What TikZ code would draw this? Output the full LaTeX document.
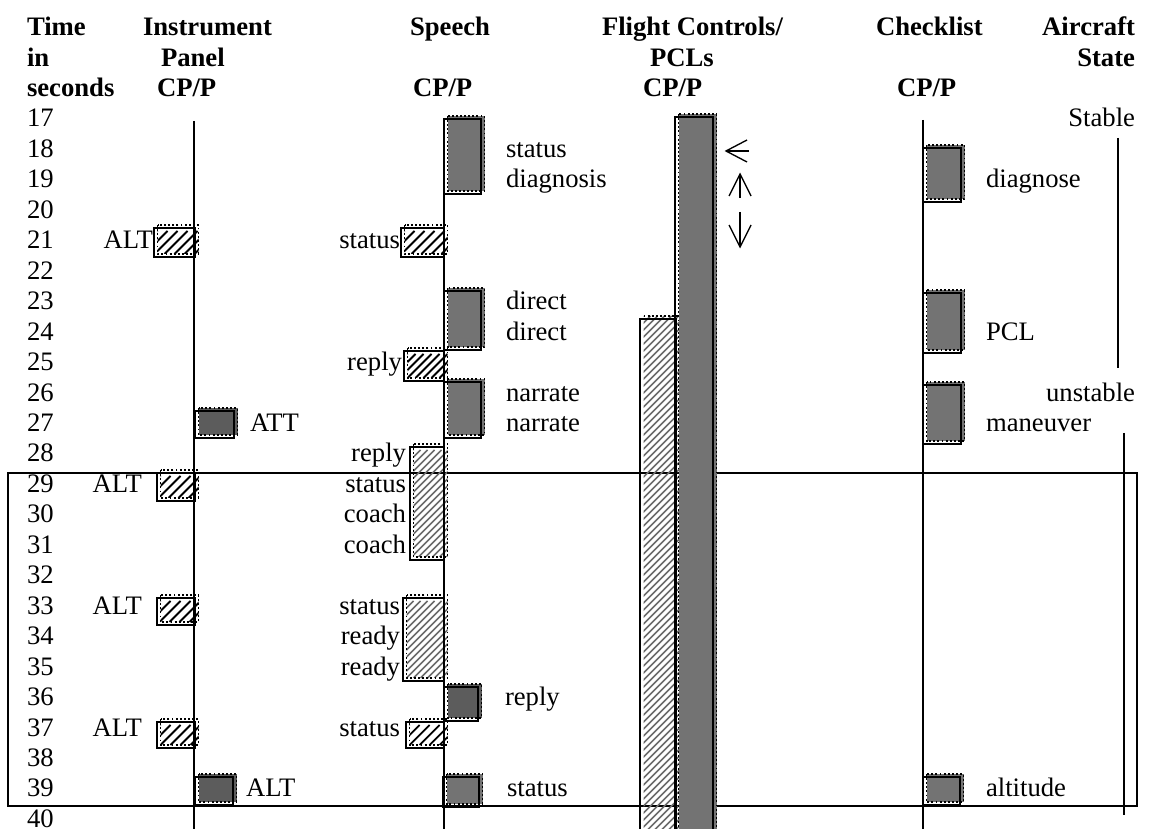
\documentclass[tikz,border=0pt]{standalone}
\usepackage{fontspec}
\setmainfont{Liberation Serif}
\begin{document}
\begin{tikzpicture}[x=0.45pt,y=-0.45pt,
  declare function={row(\t)=127+(\t-17)*30.45;},
  every node/.style={inner sep=0pt,outer sep=0pt,font=\fontsize{12}{14}\selectfont},
  head/.style={font=\fontsize{12}{14}\selectfont\bfseries},
  axis/.style={line width=0.65pt},
  outl/.style={draw=black,line width=0.85pt},
  dotedge/.style={draw=black,densely dotted,line width=0.85pt},
  grayfill/.style={fill=black!55,dotedge},
  darkfill/.style={fill=black!64,dotedge},
  sparseline/.style={black,line width=0.8pt},
  denseline/.style={black!58,line width=0.75pt},
  barb/.style={line width=0.6pt}
]
% diagonal hatching of a rectangle: x1 y1 x2 y2 spacing line-style
\newcommand\hatchrect[6]{%
  \begin{scope}
    \clip (#1,#2) rectangle (#3,#4);
    \pgfmathsetmacro\hH{#4-#2}
    \pgfmathtruncatemacro\hN{(#3-#1+\hH)/#5+1}
    \foreach \i in {0,...,\hN}
      \draw[#6] ({#1-\hH+\i*#5},#4) -- ++(\hH,-\hH);
  \end{scope}}
% event box: shifted filled patch plus solid outline
\newcommand\fillev[5]{%
  \path[#5] (#1+3.5,#2-3) rectangle (#3+3.5,#4-3);
  \draw[outl] (#1,#2) rectangle (#3,#4);}
\newcommand\hatchev[6]{%
  \hatchrect{#1+3.5}{#2-3}{#3+3.5}{#4-3}{#5}{#6}
  \path[dotedge] (#1+3.5,#2-3) rectangle (#3+3.5,#4-3);
  \draw[outl] (#1,#2) rectangle (#3,#4);}
\useasboundingbox (0,0) rectangle (1151,829);

% column headings
\node[head,anchor=base west] (hTime) at (27,{row(14)}) {Time};
\node[head,anchor=base west] (hIn) at (27,{row(15)}) {in};
\node[head,anchor=base west] (hSec) at (27,{row(16)}) {seconds};
\node[head,anchor=base west] (hInst) at (143,{row(14)}) {Instrument};
\node[head,anchor=base west] (hPanel) at (161,{row(15)}) {Panel};
\node[head,anchor=base west] (hInstCP) at (157,{row(16)}) {CP/P};
\node[head,anchor=base west] (hSpeech) at (410,{row(14)}) {Speech};
\node[head,anchor=base west] (hSpeechCP) at (413,{row(16)}) {CP/P};
\node[head,anchor=base west] (hFlight) at (602,{row(14)}) {Flight Controls/};
\node[head,anchor=base west] (hPCL) at (650,{row(15)}) {PCLs};
\node[head,anchor=base west] (hFlightCP) at (643,{row(16)}) {CP/P};
\node[head,anchor=base west] (hCheck) at (876,{row(14)}) {Checklist};
\node[head,anchor=base west] (hCheckCP) at (897,{row(16)}) {CP/P};
\node[head,anchor=base east] (hAir) at (1135,{row(14)}) {Aircraft};
\node[head,anchor=base east] (hState) at (1135,{row(15)}) {State};

% time scale
\foreach \t in {17,...,40}
  \node[anchor=base west] (t\t) at (27,{row(\t)}) {\t};

% interval frame
\draw[axis] (8,473) rectangle (1137,806);

% flight controls / PCLs
\hatchrect{643.5}{316}{679.5}{840}{7}{denseline}
\path[dotedge] (643.5,316) -- (679.5,316);
\draw[outl] (640,840) -- (640,319) -- (676,319) -- (676,840);
\path[grayfill] (678.5,114) rectangle (716.5,840);
\draw[outl] (675,840) -- (675,117) -- (713,117) -- (713,840);

% lanes
\draw[axis] (194,121) -- (194,829);
\draw[axis] (444,119) -- (444,829);
\draw[axis] (923,120) -- (923,829);

% instrument panel
\hatchev{154}{228}{195}{257}{10}{sparseline}
\fillev{195}{411}{234}{438}{darkfill}
\hatchev{157}{473}{195}{501}{10}{sparseline}
\hatchev{157}{598}{195}{625}{10}{sparseline}
\hatchev{157}{722}{195}{748}{10}{sparseline}
\fillev{195}{777}{233}{805}{darkfill}
\node[anchor=base east] (iA21) at (153,{row(21)}) {ALT};
\node[anchor=base west] (iA27) at (250,{row(27)}) {ATT};
\node[anchor=base east] (iA29) at (142,{row(29)}) {ALT};
\node[anchor=base east] (iA33) at (142,{row(33)}) {ALT};
\node[anchor=base east] (iA37) at (142,{row(37)}) {ALT};
\node[anchor=base west] (iA39) at (246,{row(39)}) {ALT};

% speech
\fillev{444}{119}{481}{194}{grayfill}
\hatchev{401}{228}{444}{257}{10}{sparseline}
\fillev{444}{291}{481}{350}{grayfill}
\hatchev{404}{351}{444}{381}{8}{sparseline}
\fillev{444}{382}{481}{438}{grayfill}
\hatchev{410}{447}{444}{560}{7}{denseline}
\hatchev{403}{598}{444}{681}{7}{denseline}
\fillev{444}{687}{478}{721}{darkfill}
\hatchev{406}{722}{444}{748}{10}{sparseline}
\fillev{443}{777}{479}{807}{grayfill}
\node[anchor=base west] (s18) at (506,{row(18)}) {status};
\node[anchor=base west] (s19) at (506,{row(19)}) {diagnosis};
\node[anchor=base east] (s21) at (400,{row(21)}) {status};
\node[anchor=base west] (s23) at (506,{row(23)}) {direct};
\node[anchor=base west] (s24) at (506,{row(24)}) {direct};
\node[anchor=base east] (s25) at (402,{row(25)}) {reply};
\node[anchor=base west] (s26) at (506,{row(26)}) {narrate};
\node[anchor=base west] (s27) at (506,{row(27)}) {narrate};
\node[anchor=base east] (s28) at (406,{row(28)}) {reply};
\node[anchor=base east] (s29) at (406,{row(29)}) {status};
\node[anchor=base east] (s30) at (406,{row(30)}) {coach};
\node[anchor=base east] (s31) at (406,{row(31)}) {coach};
\node[anchor=base east] (s33) at (400,{row(33)}) {status};
\node[anchor=base east] (s34) at (400,{row(34)}) {ready};
\node[anchor=base east] (s35) at (400,{row(35)}) {ready};
\node[anchor=base west] (s36) at (505,{row(36)}) {reply};
\node[anchor=base east] (s37) at (400,{row(37)}) {status};
\node[anchor=base west] (s39) at (507,{row(39)}) {status};

% control movement arrows (shaft plus open barbs)
\coordinate (aL0) at (749,151); \coordinate (aL1) at (726,151);
\coordinate (aU0) at (740,198); \coordinate (aU1) at (740,174);
\coordinate (aD0) at (740,212); \coordinate (aD1) at (740,247);
\draw[barb] (aL0) -- (aL1);
\draw[barb] (aL1) ++(21,-11) -- (aL1) -- ++(21,11);
\draw[barb] (aU0) -- (aU1);
\draw[barb] (aU1) ++(-11,22) -- (aU1) -- ++(11,22);
\draw[barb] (aD0) -- (aD1);
\draw[barb] (aD1) ++(-11,-22) -- (aD1) -- ++(11,-22);

% checklist
\fillev{923}{148}{961}{202}{grayfill}
\fillev{923}{293}{961}{353}{grayfill}
\fillev{923}{385}{961}{444}{grayfill}
\fillev{923}{777}{960}{805}{grayfill}
\node[anchor=base west] (c19) at (986,{row(19)}) {diagnose};
\node[anchor=base west] (c24) at (986,{row(24)}) {PCL};
\node[anchor=base west] (c27) at (986,{row(27)}) {maneuver};
\node[anchor=base west] (c39) at (986,{row(39)}) {altitude};

% aircraft state
\node[anchor=base east] (aStable) at (1135,{row(17)}) {Stable};
\node[anchor=base east] (aUnstable) at (1135,{row(26)}) {unstable};
\draw[line width=0.5pt] (1118,138) -- (1118,368);
\draw[line width=0.5pt] (1124,433) -- (1124,815);
\end{tikzpicture}
\end{document}
